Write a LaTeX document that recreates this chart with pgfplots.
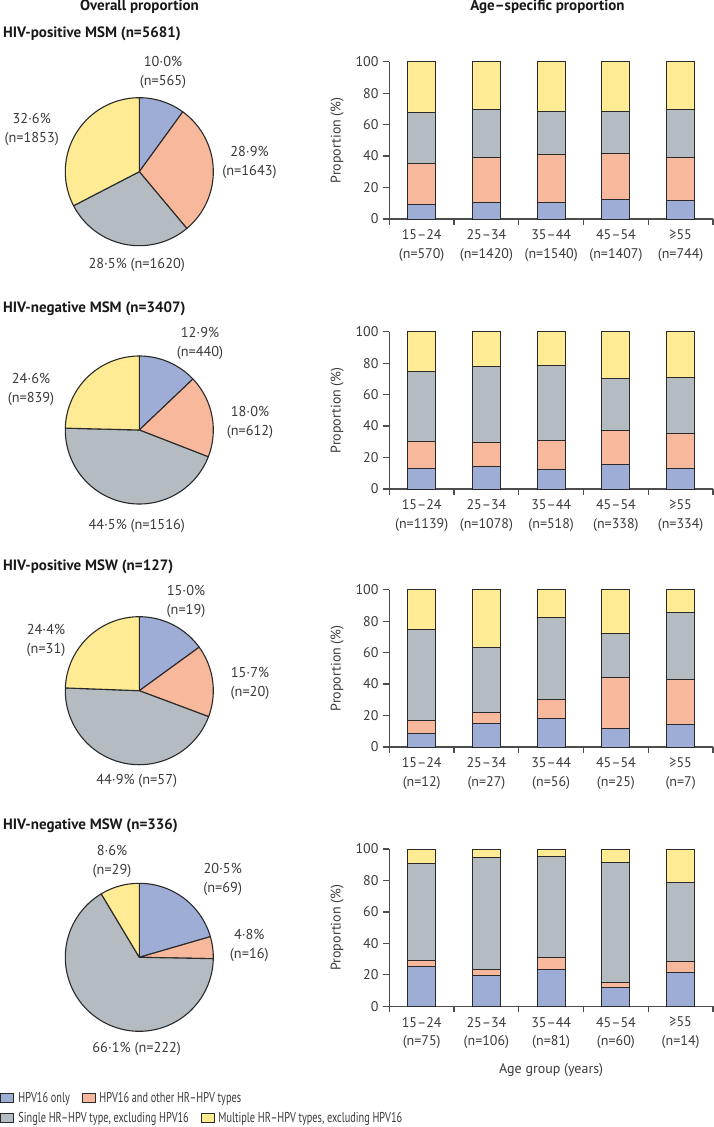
\documentclass[border=0pt]{standalone}
\usepackage{fontspec}
\setmainfont{PT Sans}
\newfontfamily\legfont[FakeStretch=0.72]{PT Sans}
\usepackage{pgfplots}
\pgfplotsset{compat=1.18}
\usepackage{pgfplotstable}

\definecolor{cblue}{HTML}{9DADD6}
\definecolor{csalmon}{HTML}{F8B89C}
\definecolor{cgray}{HTML}{B4BBC1}
\definecolor{cyellow}{HTML}{FEEB94}
\definecolor{txt}{HTML}{3A3A3A}
\definecolor{edge}{HTML}{2A2A2A}

% increments (stacked): a = HPV16 only, b = HPV16 + other, c = single HR, d = multiple HR
\pgfplotstableread{
x a b c d
0 9.3 25.7 33.0 32.0
1 10.2 29.2 29.9 30.7
2 10.2 31.1 26.9 31.8
3 12.1 29.4 26.9 31.6
4 11.9 26.9 30.7 30.5
}\tabA
\pgfplotstableread{
x a b c d
0 12.9 17.0 45.1 25.0
1 14.0 15.4 48.4 22.2
2 12.1 18.6 48.1 21.2
3 15.5 21.6 33.2 29.7
4 12.9 22.3 36.0 28.8
}\tabB
\pgfplotstableread{
x a b c d
0 8.3 8.4 58.3 25.0
1 14.8 7.4 40.8 37.0
2 17.9 12.5 51.7 17.9
3 12.0 32.0 28.0 28.0
4 14.3 28.6 42.8 14.3
}\tabC
\pgfplotstableread{
x a b c d
0 25.3 4.0 61.4 9.3
1 19.8 3.8 70.7 5.7
2 23.5 7.4 64.2 4.9
3 11.7 3.3 76.7 8.3
4 21.4 7.2 50.0 21.4
}\tabD

\pgfplotsset{
  barpanel/.style={
    scale only axis, width=323.7pt, height=157.3pt,
    anchor=south west,
    xmin=-0.5, xmax=4.5, ymin=0, ymax=100,
    axis x line*=bottom, axis y line*=left,
    axis line style={line width=1.2pt, color=black!70, -},
    tick style={line width=1.2pt, color=black!70},
    tick align=outside,
    major tick length=0pt, minor tick length=6pt,
    ytick={0,20,...,100}, minor ytick={0,20,...,100},
    xtick={0,...,4}, minor xtick={-0.5,0.5,...,4.5},
    xticklabel style={align=center, yshift=-6pt, font=\fontsize{14}{18.5}\selectfont, text=txt},
    yticklabel style={xshift=-6pt, font=\fontsize{14}{16}\selectfont, text=txt},
    /pgf/number format/assume math mode=true,
    ybar stacked, bar width=28pt,
    ylabel={Proportion (\%)},
    ylabel style={at={(axis description cs:-0.161,0.5)}, anchor=center, rotate=0, font=\fontsize{14}{16}\selectfont, text=txt},
    clip=false,
  },
  piepanel/.style={
    scale only axis, width=148pt, height=148pt,
    xmin=-1, xmax=1, ymin=-1, ymax=1,
    hide axis, anchor=center, clip=false,
  },
  pieslice/.style={draw=edge, line width=1.1pt, line join=round, samples=120},
  legaxis/.style={
    scale only axis, width=1pt, height=1pt, hide axis,
    xmin=0, xmax=1, ymin=0, ymax=1, anchor=west,
    legend image code/.code={\draw[##1, draw=edge, line width=0.9pt] (0pt,-4.5pt) rectangle (13pt,4.5pt);},
    legend style={at={(0,0.5)}, anchor=west, draw=none, fill=none,
      inner sep=0pt, outer sep=0pt, column sep=4pt,
      nodes={inner sep=0pt, text=txt},
      font=\legfont\fontsize{14.3}{16}\selectfont},
  },
}

\newcommand{\stackbars}[1]{%
  \addplot[fill=cblue, draw=edge, line width=1pt] table[x=x,y=a]{#1};
  \addplot[fill=csalmon, draw=edge, line width=1pt] table[x=x,y=b]{#1};
  \addplot[fill=cgray, draw=edge, line width=1pt] table[x=x,y=c]{#1};
  \addplot[fill=cyellow, draw=edge, line width=1pt] table[x=x,y=d]{#1};
}
% four shares in percent, clockwise from 12 o'clock
\newcommand{\pieslices}[4]{%
  \pgfmathsetmacro\angA{90-3.6*#1}%
  \pgfmathsetmacro\angB{\angA-3.6*#2}%
  \pgfmathsetmacro\angC{\angB-3.6*#3}%
  \pgfmathsetmacro\angD{\angC-3.6*#4}%
  \addplot[pieslice, fill=cblue, domain=\angA:90] ({cos(x)},{sin(x)}) -- (0,0) -- cycle;
  \addplot[pieslice, fill=csalmon, domain=\angB:\angA] ({cos(x)},{sin(x)}) -- (0,0) -- cycle;
  \addplot[pieslice, fill=cgray, domain=\angC:\angB] ({cos(x)},{sin(x)}) -- (0,0) -- cycle;
  \addplot[pieslice, fill=cyellow, domain=\angD:\angC] ({cos(x)},{sin(x)}) -- (0,0) -- cycle;
}

\begin{document}
\fontsize{14}{16}\selectfont
\begin{tikzpicture}[
  lab/.style={align=center, text=txt, font=\fontsize{14.3}{19}\selectfont, inner sep=0pt},
  ttl/.style={text=black!90, font=\bfseries\fontsize{15}{16}\selectfont, inner sep=0pt},
]
\useasboundingbox (0,0) rectangle (714pt,-1127pt);

% headings
\node[ttl] at (139.5pt,-6.7pt) {Overall proportion};
\node[ttl] at (547.5pt,-6.7pt) {Age–specific proportion};
\node[ttl, anchor=west] at (3pt,-33.3pt) {HIV-positive MSM (n=5681)};
\node[ttl, anchor=west] at (3pt,-308.3pt) {HIV-negative MSM (n=3407)};
\node[ttl, anchor=west] at (3pt,-566.7pt) {HIV-positive MSW (n=127)};
\node[ttl, anchor=west] at (3pt,-826pt) {HIV-negative MSW (n=336)};

% ---------- pies ----------
\begin{axis}[piepanel, at={(139.3pt,-171.7pt)}]
  \pieslices{10.0}{28.9}{28.5}{32.6}
\end{axis}
\node[lab] at (163pt,-72.2pt) {10·0\%\\(n=565)};
\node[lab] at (249.5pt,-162.2pt) {28·9\%\\(n=1643)};
\node[lab] at (136.7pt,-265pt) {28·5\% (n=1620)};
\node[lab] at (31.7pt,-129pt) {32·6\%\\(n=1853)};

\begin{axis}[piepanel, at={(139.3pt,-430pt)}]
  \pieslices{12.9}{18.0}{44.5}{24.6}
\end{axis}
\node[lab] at (200pt,-343.5pt) {12·9\%\\(n=440)};
\node[lab] at (250pt,-422.2pt) {18·0\%\\(n=612)};
\node[lab] at (136.7pt,-526pt) {44·5\% (n=1516)};
\node[lab] at (31pt,-389.5pt) {24·6\%\\(n=839)};

\begin{axis}[piepanel, at={(139.3pt,-690.7pt)}]
  \pieslices{15.0}{15.7}{44.9}{24.4}
\end{axis}
\node[lab] at (186pt,-601.2pt) {15·0\%\\(n=19)};
\node[lab] at (250pt,-683.3pt) {15·7\%\\(n=20)};
\node[lab] at (136.7pt,-781pt) {44·9\% (n=57)};
\node[lab] at (46pt,-640.8pt) {24·4\%\\(n=31)};

\begin{axis}[piepanel, at={(139.3pt,-957.3pt)}]
  \pieslices{20.5}{4.8}{66.1}{8.6}
\end{axis}
\node[lab] at (112pt,-861.2pt) {8·6\%\\(n=29)};
\node[lab] at (222.7pt,-879.2pt) {20·5\%\\(n=69)};
\node[lab] at (249.3pt,-945.8pt) {4·8\%\\(n=16)};
\node[lab] at (136.7pt,-1049pt) {66·1\% (n=222)};

% ---------- stacked bars ----------
\begin{axis}[barpanel, at={(389.3pt,-219pt)},
  xticklabels={15–24\\(n=570), 25–34\\(n=1420), 35–44\\(n=1540), 45–54\\(n=1407), ≥55\\(n=744)}]
  \stackbars{\tabA}
\end{axis}
\begin{axis}[barpanel, at={(389.3pt,-489pt)},
  xticklabels={15–24\\(n=1139), 25–34\\(n=1078), 35–44\\(n=518), 45–54\\(n=338), ≥55\\(n=334)}]
  \stackbars{\tabB}
\end{axis}
\begin{axis}[barpanel, at={(389.3pt,-747pt)},
  xticklabels={15–24\\(n=12), 25–34\\(n=27), 35–44\\(n=56), 45–54\\(n=25), ≥55\\(n=7)}]
  \stackbars{\tabC}
\end{axis}
\begin{axis}[barpanel, at={(389.3pt,-1006.3pt)},
  xticklabels={15–24\\(n=75), 25–34\\(n=106), 35–44\\(n=81), 45–54\\(n=60), ≥55\\(n=14)},
  xlabel={Age group (years)},
  xlabel style={at={(axis description cs:0.5,-0.405)}, anchor=center, font=\fontsize{14}{16}\selectfont, text=txt}]
  \stackbars{\tabD}
\end{axis}

% ---------- legend ----------
\begin{axis}[legaxis, at={(0.5pt,-1098pt)}]
  \addlegendimage{fill=cblue}\addlegendentry{HPV16 only}
\end{axis}
\begin{axis}[legaxis, at={(81.5pt,-1098pt)}]
  \addlegendimage{fill=csalmon}\addlegendentry{HPV16 and other HR–HPV types}
\end{axis}
\begin{axis}[legaxis, at={(0.5pt,-1118pt)}]
  \addlegendimage{fill=cgray}\addlegendentry{Single HR–HPV type, excluding HPV16}
\end{axis}
\begin{axis}[legaxis, at={(200.5pt,-1118pt)}]
  \addlegendimage{fill=cyellow}\addlegendentry{Multiple HR–HPV types, excluding HPV16}
\end{axis}
\end{tikzpicture}
\end{document}
